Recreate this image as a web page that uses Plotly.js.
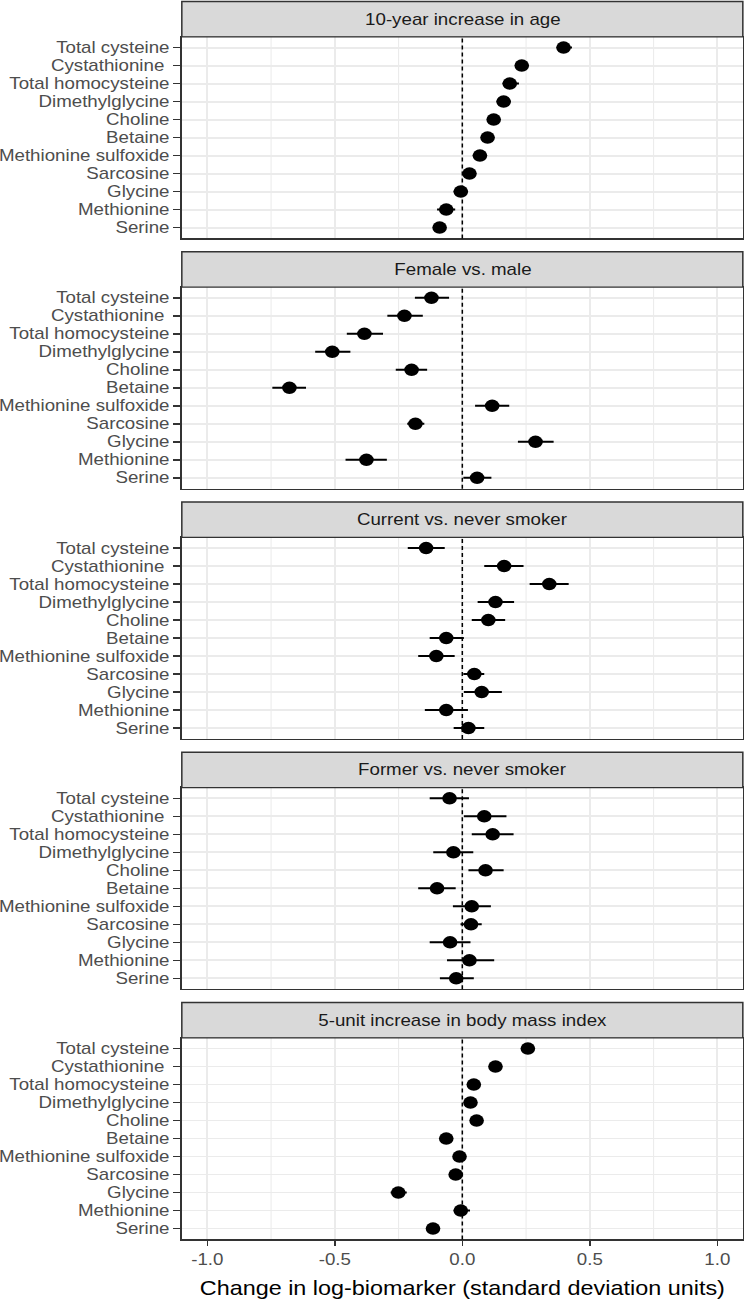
<!DOCTYPE html>
<html>
<head>
<meta charset="utf-8">
<script src="https://cdn.plot.ly/plotly-3.0.1.min.js"></script>
<style>
html,body{margin:0;padding:0;background:#fff;overflow:hidden;width:744px;height:1299px;}
#plot{width:636px;height:1299px;transform:scaleX(1.17);transform-origin:0 0;}
</style>
</head>
<body>
<div id="plot"></div>
<script>
// ---- data ----
var categories = ["Total cysteine","Cystathionine\u00A0","Total homocysteine","Dimethylglycine","Choline","Betaine","Methionine sulfoxide","Sarcosine","Glycine","Methionine","Serine"];
var panelTitles = ["10-year increase in age","Female vs. male","Current vs. never smoker","Former vs. never smoker","5-unit increase in body mass index"];

var ageEst = [0.397, 0.233, 0.186, 0.162, 0.123, 0.099, 0.069, 0.028, -0.006, -0.063, -0.089];
var ageLo  = [0.370, 0.210, 0.158, 0.134, 0.098, 0.073, 0.041, 0.007, -0.034, -0.099, -0.113];
var ageHi  = [0.430, 0.260, 0.222, 0.190, 0.148, 0.125, 0.097, 0.050, 0.022, -0.028, -0.065];

var sexEst = [-0.121, -0.227, -0.384, -0.510, -0.199, -0.678, 0.117, -0.184, 0.287, -0.376, 0.058];
var sexLo  = [-0.186, -0.294, -0.453, -0.577, -0.261, -0.745, 0.050, -0.216, 0.218, -0.458, 0.004];
var sexHi  = [-0.052, -0.155, -0.311, -0.439, -0.138, -0.613, 0.184, -0.149, 0.358, -0.296, 0.114];

var curEst = [-0.142, 0.164, 0.341, 0.130, 0.102, -0.063, -0.102, 0.047, 0.076, -0.063, 0.024];
var curLo  = [-0.214, 0.086, 0.264, 0.060, 0.037, -0.128, -0.173, 0.004, 0.006, -0.147, -0.034];
var curHi  = [-0.069, 0.240, 0.417, 0.203, 0.168, 0.006, -0.030, 0.086, 0.155, 0.022, 0.086];

var forEst = [-0.050, 0.086, 0.119, -0.035, 0.091, -0.099, 0.037, 0.034, -0.048, 0.028, -0.024];
var forLo  = [-0.128, 0.006, 0.037, -0.114, 0.024, -0.173, -0.037, -0.007, -0.128, -0.060, -0.088];
var forHi  = [0.026, 0.173, 0.201, 0.043, 0.162, -0.026, 0.112, 0.076, 0.032, 0.125, 0.045];

var bmiEst = [0.257, 0.130, 0.045, 0.032, 0.056, -0.063, -0.011, -0.026, -0.251, -0.006, -0.115];
var bmiLo  = [0.232, 0.105, 0.020, 0.007, 0.031, -0.088, -0.036, -0.051, -0.281, -0.034, -0.140];
var bmiHi  = [0.283, 0.156, 0.070, 0.057, 0.081, -0.038, 0.014, -0.001, -0.218, 0.030, -0.090];

var xTickVals = [-1.0, -0.5, 0.0, 0.5, 1.0];
var xTickText = ["-1.0", "-0.5", "0.0", "0.5", "1.0"];
var xTitle = "Change in log-biomarker (standard deviation units)";

var panels = [
  {est: ageEst, lo: ageLo, hi: ageHi},
  {est: sexEst, lo: sexLo, hi: sexHi},
  {est: curEst, lo: curLo, hi: curHi},
  {est: forEst, lo: forLo, hi: forHi},
  {est: bmiEst, lo: bmiLo, hi: bmiHi}
];

// ---- layout geometry (pixels) ----
var H = 1299, W = 636;
var xDom = [155.4 / W, 634.9 / W];
var period = 250.25, stripTop0 = 1.5, panelTop0 = 36.8, panelBot0 = 238.4;
var FONT = '"Liberation Sans", Arial, sans-serif';
var border = '#333333', grid = '#EBEBEB';
var FS = 16;

var data = [];
var layout = {
  width: W, height: H,
  margin: {l: 0, r: 0, t: 0, b: 0},
  paper_bgcolor: '#ffffff', plot_bgcolor: '#ffffff',
  showlegend: false,
  font: {family: FONT, size: FS, color: '#4D4D4D'},
  shapes: [], annotations: []
};

panels.forEach(function(p, i) {
  var n = i + 1;
  var xa = n === 1 ? 'x' : 'x' + n;
  var ya = n === 1 ? 'y' : 'y' + n;
  var xkey = n === 1 ? 'xaxis' : 'xaxis' + n;
  var ykey = n === 1 ? 'yaxis' : 'yaxis' + n;
  var sTop = stripTop0 + period * i, pTop = panelTop0 + period * i, pBot = panelBot0 + period * i;

  data.push({
    type: 'scatter', mode: 'markers',
    x: p.est, y: categories, xaxis: xa, yaxis: ya,
    marker: {color: '#000000', size: 12.5},
    error_x: {
      type: 'data', symmetric: false,
      array: p.est.map(function(v, k) { return p.hi[k] - v; }),
      arrayminus: p.est.map(function(v, k) { return v - p.lo[k]; }),
      color: '#000000', thickness: 2, width: 0
    },
    hoverinfo: 'skip'
  });

  var last = (i === panels.length - 1);
  layout[xkey] = {
    domain: xDom, anchor: ya, range: [-1.1, 1.1],
    tickmode: 'array', tickvals: xTickVals, ticktext: xTickText,
    showticklabels: last, ticks: last ? 'outside' : '', ticklen: 5, tickwidth: 1.3, tickcolor: border,
    tickfont: {family: FONT, size: FS, color: '#4D4D4D'},
    showgrid: true, gridcolor: grid, gridwidth: 1.8,
    minor: {tickmode: 'linear', tick0: -1, dtick: 0.25, showgrid: true, gridcolor: grid, gridwidth: 0.9, ticks: ''},
    zeroline: false, showline: true, mirror: true, linecolor: border, linewidth: 1.3,
    fixedrange: true
  };
  if (last) {
    layout[xkey].title = {text: xTitle, font: {family: FONT, size: 20, color: '#000000'}, standoff: 14};
  }
  layout[ykey] = {
    domain: [1 - pBot / H, 1 - pTop / H], anchor: xa,
    type: 'category', categoryorder: 'array', categoryarray: categories,
    tickmode: 'array', tickvals: categories, ticktext: categories,
    range: [categories.length - 0.4, -0.6],
    ticks: 'outside', ticklen: 6, tickwidth: 1.3, tickcolor: border,
    tickfont: {family: FONT, size: FS, color: '#4D4D4D'},
    showgrid: true, gridcolor: grid, gridwidth: 1.8,
    zeroline: false, showline: true, mirror: true, linecolor: border, linewidth: 1.3,
    fixedrange: true
  };

  // strip
  layout.shapes.push({
    type: 'rect', xref: 'paper', yref: 'paper',
    x0: xDom[0], x1: xDom[1], y0: 1 - pTop / H, y1: 1 - sTop / H,
    fillcolor: '#D9D9D9', line: {color: border, width: 1.3}, layer: 'above'
  });
  layout.annotations.push({
    xref: 'paper', yref: 'paper', x: (xDom[0] + xDom[1]) / 2, y: 1 - (sTop + pTop) / 2 / H,
    text: panelTitles[i], showarrow: false, xanchor: 'center', yanchor: 'middle',
    font: {family: FONT, size: FS, color: '#1A1A1A'}
  });
  // dashed reference line at 0
  layout.shapes.push({
    type: 'line', xref: xa, yref: 'paper', x0: 0, x1: 0, y0: 1 - pBot / H, y1: 1 - pTop / H,
    line: {color: '#000000', width: 1.3, dash: '4px,3px'}, layer: 'above'
  });
});

Plotly.newPlot('plot', data, layout, {staticPlot: true, displayModeBar: false});
</script>
</body>
</html>
